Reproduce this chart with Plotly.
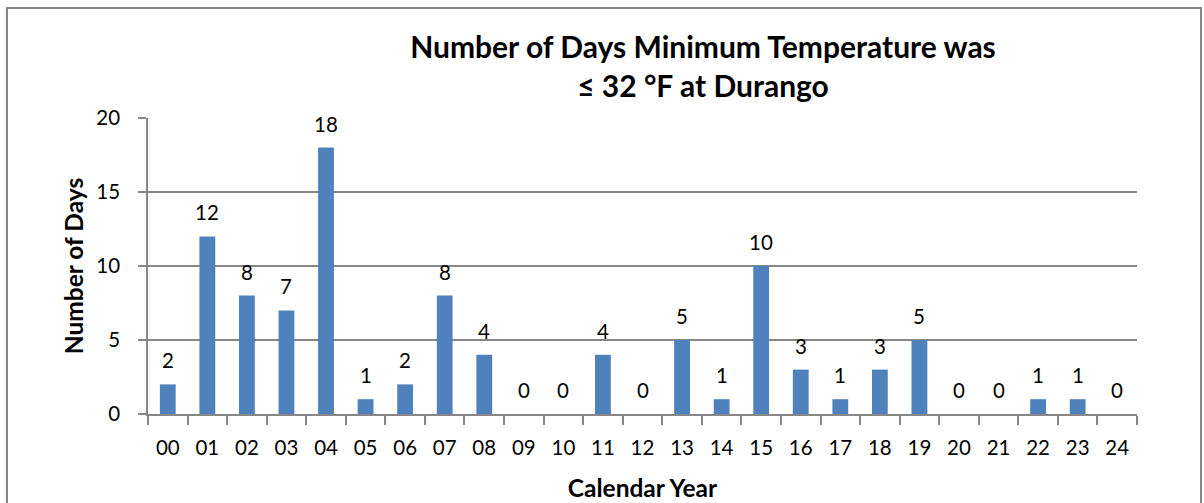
import plotly.graph_objects as go

years = ["00","01","02","03","04","05","06","07","08","09","10","11","12",
         "13","14","15","16","17","18","19","20","21","22","23","24"]
days = [2,12,8,7,18,1,2,8,4,0,0,4,0,5,1,10,3,1,3,5,0,0,1,1,0]

W, H = 1204, 503
ml, mr, mt, mb = 148, 67, 118, 89
pw, ph = W - ml - mr, H - mt - mb
FONT = "Lato"
GRAY = "#878787"

fig = go.Figure(go.Bar(
    x=years, y=days, marker_color="#4F81BD", marker_line_width=0,
    hoverinfo="x+y",
))

for yr, v in zip(years, days):
    fig.add_annotation(x=yr, y=v, text=str(v), showarrow=False,
                       yanchor="bottom", yshift=10,
                       font=dict(size=20.5, family=FONT, color="black"))

fig.update_layout(
    width=W, height=H,
    margin=dict(l=ml, r=mr, t=mt, b=mb, autoexpand=False),
    plot_bgcolor="white", paper_bgcolor="white",
    bargap=0.6,
    showlegend=False,
    font=dict(family=FONT, color="black"),
    title=dict(text="<b>Number of Days Minimum Temperature was<br>≤ 32 °F at Durango</b>",
               x=703/W, xanchor="center", y=1-58/H, yanchor="middle",
               font=dict(size=30, family=FONT, color="black")),
    xaxis=dict(type="category", showline=True, linecolor=GRAY, linewidth=1.5,
               ticks="outside", tickson="boundaries", ticklen=9, tickcolor=GRAY,
               tickwidth=1.5, automargin=False, ticklabelstandoff=15,
               tickfont=dict(size=20.5), showgrid=False,
               title=dict(text="<b>Calendar Year</b>", font=dict(size=24.5), standoff=22)),
    yaxis=dict(range=[0, 20], tickvals=[0,5,10,15,20], showline=True,
               linecolor=GRAY, linewidth=1.5, automargin=False,
               ticks="outside", ticklen=8, tickcolor=GRAY, tickwidth=1.5,
               gridcolor=GRAY, gridwidth=1.5, zeroline=False,
               tickfont=dict(size=20.5), ticklabelstandoff=14,
               title=dict(text="<b>Number of Days</b>", font=dict(size=24.5), standoff=6)),
)

fig.add_shape(type="rect", xref="paper", yref="paper",
              x0=(7 - ml)/pw, x1=(1201 - ml)/pw,
              y0=-(H + 10 - mt - ph)/ph, y1=(H - 8 - mb)/ph,
              line=dict(color=GRAY, width=2), fillcolor="rgba(0,0,0,0)", layer="below")

fig.write_html("out.html", config={"displayModeBar": False},
               post_script="document.body.style.margin='0';")
